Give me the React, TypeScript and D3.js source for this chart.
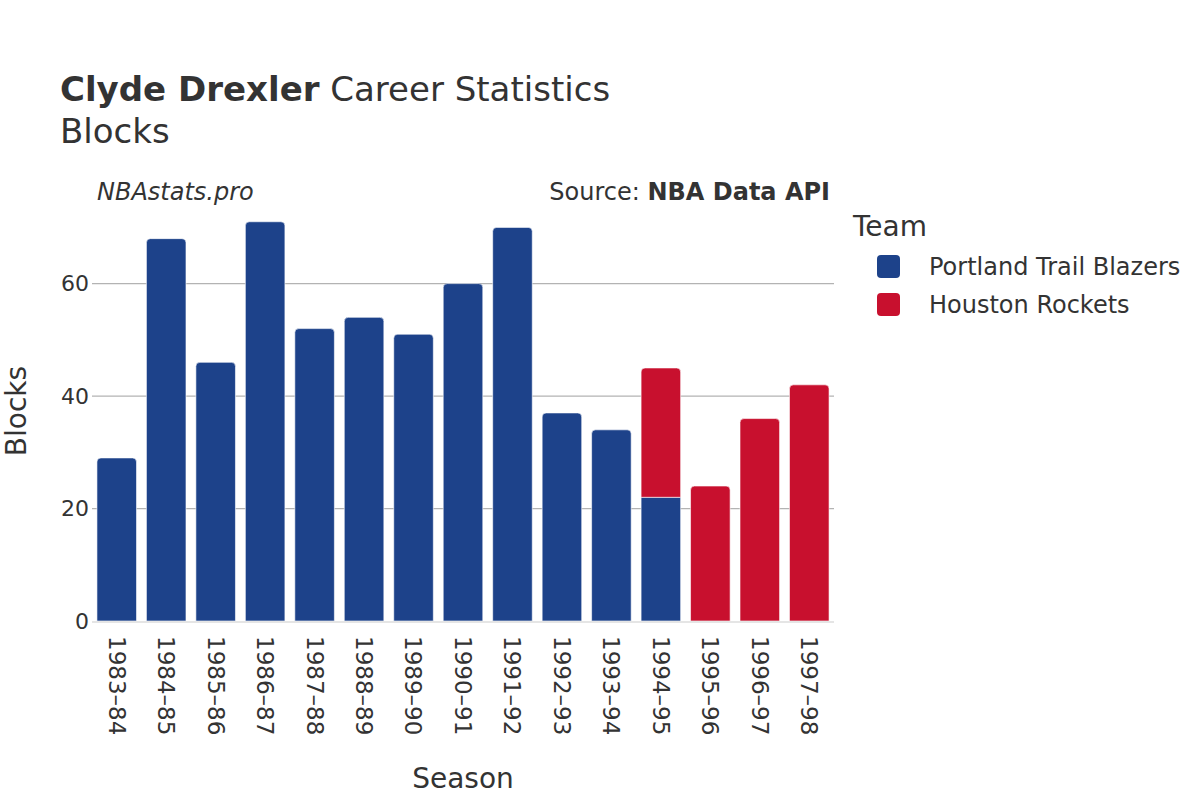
import React from "react";
import * as d3 from "d3";

const seasons = ["1983–84","1984–85","1985–86","1986–87","1987–88","1988–89","1989–90","1990–91","1991–92","1992–93","1993–94","1994–95","1995–96","1996–97","1997–98"];
const portland = [29, 68, 46, 71, 52, 54, 51, 60, 70, 37, 34, 22, 0, 0, 0];
const houston = [0, 0, 0, 0, 0, 0, 0, 0, 0, 0, 0, 23, 24, 36, 42];
const teams = ["Portland Trail Blazers", "Houston Rockets"];
const teamColors = ["#1d428a", "#c8102e"];
const yTicks = [0, 20, 40, 60];

const W = 1200, H = 800;
const M = { left: 92, right: 834, top: 201, bottom: 621 };
const FONT = "'DejaVu Sans', Verdana, sans-serif";
const TEXT = "#333333";

function topRounded(x: number, y: number, w: number, h: number, r: number) {
  const rr = Math.min(r, h, w / 2);
  return `M${x},${y + h}V${y + rr}Q${x},${y} ${x + rr},${y}H${x + w - rr}Q${x + w},${y} ${x + w},${y + rr}V${y + h}Z`;
}

export default function App() {
  const x = d3.scaleBand<string>().domain(seasons).range([M.left, M.right]).paddingInner(0.2).paddingOuter(0.1);
  const totals = seasons.map((_, i) => portland[i] + houston[i]);
  const yMax = (d3.max(totals) as number) * 1.052;
  const y = d3.scaleLinear().domain([0, yMax]).range([M.bottom, M.top]);
  const series = [portland, houston];

  const bars: React.ReactNode[] = [];
  seasons.forEach((s, i) => {
    let base = 0;
    const top = series.reduce((acc, arr, k) => (arr[i] > 0 ? k : acc), -1);
    series.forEach((arr, k) => {
      const v = arr[i];
      if (v <= 0) return;
      const y0 = y(base), y1 = y(base + v);
      const bx = x(s) as number, bw = x.bandwidth();
      const isTop = k === top;
      bars.push(
        <path
          key={`${i}-${k}`}
          d={isTop ? topRounded(bx, y1, bw, y0 - y1, 4) : `M${bx},${y0}V${y1}H${bx + bw}V${y0}Z`}
          fill={teamColors[k]}
          stroke="#ffffff"
          strokeWidth={0.6}
        />
      );
      base += v;
    });
  });

  return (
    <svg width={W} height={H} style={{ display: "block", position: "absolute", left: 0, top: 0 }} fontFamily={FONT}>
      <rect width={W} height={H} fill="#ffffff" />
      <text x={60} y={101} fontSize={34} fill={TEXT}>
        <tspan fontWeight="bold">Clyde Drexler</tspan>
        <tspan> Career Statistics</tspan>
      </text>
      <text x={60} y={143} fontSize={34} fill={TEXT}>Blocks</text>
      <text x={97} y={200} fontSize={24} fontStyle="italic" fill={TEXT}>NBAstats.pro</text>
      <text x={830} y={200} fontSize={24} textAnchor="end" fill={TEXT}>
        <tspan>Source: </tspan>
        <tspan fontWeight="bold">NBA Data API</tspan>
      </text>

      {yTicks.filter(t => t > 0).map(t => (
        <line key={t} x1={M.left} x2={M.right} y1={y(t)} y2={y(t)} stroke="#b3b3b3" strokeWidth={1.2} />
      ))}
      {bars}
      <line x1={M.left} x2={M.right} y1={y(0) + 1} y2={y(0) + 1} stroke="#e5e5e5" strokeWidth={2} />

      {yTicks.map(t => (
        <text key={t} x={M.left - 3} y={y(t)} dy="0.35em" fontSize={22} textAnchor="end" fill={TEXT}>{t}</text>
      ))}
      {seasons.map(s => {
        const cx = (x(s) as number) + x.bandwidth() / 2;
        return (
          <text key={s} transform={`translate(${cx},${636}) rotate(90)`} dy="0.35em" fontSize={23} fill={TEXT}>{s}</text>
        );
      })}

      <text transform={`translate(26,${(M.top + M.bottom) / 2}) rotate(-90)`} fontSize={28} textAnchor="middle" fill={TEXT}>Blocks</text>
      <text x={(M.left + M.right) / 2} y={788} fontSize={28} textAnchor="middle" fill={TEXT}>Season</text>

      <text x={853} y={236} fontSize={28} fill={TEXT}>Team</text>
      {teams.map((t, k) => (
        <g key={t} transform={`translate(0,${k * 38})`}>
          <rect x={877} y={255} width={23} height={23} rx={4} fill={teamColors[k]} />
          <text x={929} y={267} dy="0.35em" fontSize={24} fill={TEXT}>{t}</text>
        </g>
      ))}
    </svg>
  );
}
